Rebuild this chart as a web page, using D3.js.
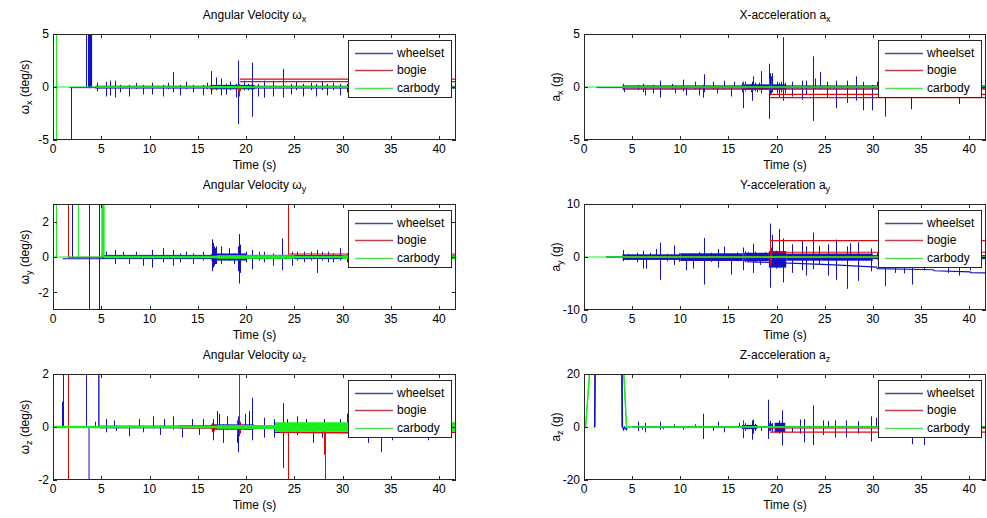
<!DOCTYPE html>
<html>
<head>
<meta charset="utf-8">
<script src="https://cdn.jsdelivr.net/npm/d3@7"></script>
<style>
  body { margin: 0; background: #fff; }
  svg { display: block; }
  text { font-family: "Liberation Sans", Arial, Helvetica, sans-serif; fill: #000; }
</style>
</head>
<body>
<svg id="fig" width="987" height="518"></svg>
<script>
// ---------------------------------------------------------------------------
// Sensor records for one run: wheelset, bogie and carbody channels.
// Each channel is described by
//   *Paths  : [series, [[t, value], ...]]   traced polylines (baselines, offsets, steps)
//   *Bands  : [series, t0, t1, low, high]   envelope of dense vibration
//   *Spikes : [series, t, low, high]        individual impact transients
// Time in seconds.
// ---------------------------------------------------------------------------
const seriesNames = ["wheelset", "bogie", "carbody"];
const timeTicks = [0, 5, 10, 15, 20, 25, 30, 35, 40];
const timeDomain = [0, 41.75];

// ---- Angular velocity about x (deg/s) ----
const wxPaths = [
  ["wheelset", [[1.7, -0.05], [4.5, -0.05]]],
  ["bogie", [[19.35, 0.75], [41.75, 0.75]]],
  ["bogie", [[19.35, 0.5], [41.75, 0.5]]],
  ["carbody", [[0, 0], [41.75, 0]]]
];
const wxBands = [
  ["wheelset", 3.62, 4.05, -0.1, 5.5],
  ["wheelset", 4.4, 41.75, -0.15, 0.12],
  ["wheelset", 16.3, 20.9, -0.22, 0.2],
  ["bogie", 4.5, 41.75, -0.07, 0.05],
  ["carbody", 4.5, 41.75, -0.07, 0.07],
  ["carbody", 16.5, 20.5, -0.12, 0.1]
];
const wxSpikes = [
  ["wheelset", 1.9, -5.5, 0], ["wheelset", 3.4, 0, 5.5], ["wheelset", 4.6, -0.4, 0.4],
  ["wheelset", 5.5, -0.9, 0.5], ["wheelset", 5.9, -0.8, 0.6], ["wheelset", 6.4, -1.0, 0.6],
  ["wheelset", 6.9, -0.5, 0.2], ["wheelset", 7.9, -0.9, 0.2], ["wheelset", 8.6, -0.2, 0.4],
  ["wheelset", 9.3, -0.7, 0.2], ["wheelset", 10.3, -0.7, 0.4], ["wheelset", 11.4, -0.9, 0.2],
  ["wheelset", 11.9, -0.2, 0.4], ["wheelset", 12.4, -0.5, 1.4], ["wheelset", 13.2, -0.8, 0.2],
  ["wheelset", 13.8, -0.2, 0.5], ["wheelset", 14.5, -0.5, 0.2], ["wheelset", 15.5, -0.8, 0.2],
  ["wheelset", 16.0, -0.2, 0.4], ["wheelset", 16.4, -0.7, 1.5], ["wheelset", 16.9, -0.3, 0.9],
  ["wheelset", 17.4, -0.8, 0.8], ["wheelset", 17.9, -0.7, 0.3], ["wheelset", 18.3, -0.3, 0.5],
  ["wheelset", 19.0, -1.0, 0.3], ["wheelset", 19.2, -3.5, 2.5], ["wheelset", 19.8, -0.3, 0.6],
  ["wheelset", 20.2, -0.3, 0.3], ["wheelset", 20.6, -2.8, 2.3], ["wheelset", 21.2, -0.9, 0.3],
  ["wheelset", 21.9, -1.0, 0.6], ["wheelset", 22.8, -0.9, 0.6], ["wheelset", 23.8, -1.0, 1.7],
  ["wheelset", 24.7, -0.7, 0.3], ["wheelset", 25.2, -0.3, 0.5], ["wheelset", 25.9, -0.9, 0.3],
  ["wheelset", 26.7, -0.3, 0.4], ["wheelset", 27.2, -0.9, 0.3], ["wheelset", 27.9, -0.3, 0.5],
  ["wheelset", 28.4, -0.8, 0.3], ["wheelset", 29.0, -0.3, 0.4], ["wheelset", 29.7, -0.8, 0.3],
  ["wheelset", 30.5, -0.5, 0.3], ["wheelset", 34.1, -0.6, 0.2], ["wheelset", 35.2, -1.0, 0.2],
  ["wheelset", 37.8, -0.4, 0.2], ["wheelset", 39.8, -0.4, 0.2],
  ["bogie", 16.5, -0.3, 0.1], ["bogie", 19.15, -0.5, 0.2], ["bogie", 19.25, -0.9, 0.3],
  ["bogie", 19.4, -0.4, 0.2],
  ["carbody", 0.35, -5.5, 5.5]
];

// ---- X acceleration (g) ----
const axPaths = [
  ["wheelset", [[1.3, -0.05], [4.0, -0.05]]],
  ["bogie", [[4.0, -0.2], [41.75, -0.2]]],
  ["bogie", [[19.3, -0.7], [41.75, -0.7]]],
  ["bogie", [[19.3, -1.0], [41.75, -1.0]]],
  ["carbody", [[0, 0], [41.75, 0]]]
];
const axBands = [
  ["wheelset", 4.0, 41.75, -0.15, 0.15],
  ["wheelset", 16.4, 21.0, -0.25, 0.25],
  ["carbody", 4.0, 41.75, -0.06, 0.06]
];
const axSpikes = [
  ["wheelset", 4.05, -0.3, 0.3], ["wheelset", 4.2, -0.5, 0.1], ["wheelset", 5.6, -0.3, 0.2],
  ["wheelset", 6.1, -0.5, 0.3], ["wheelset", 6.3, -0.8, 0.1], ["wheelset", 7.2, -0.6, 0.2],
  ["wheelset", 7.9, -1.0, 0.6], ["wheelset", 9.1, -0.2, 0.3], ["wheelset", 9.4, -0.6, 0.1],
  ["wheelset", 10.3, -0.4, 0.7], ["wheelset", 10.6, -0.8, 0.1], ["wheelset", 11.5, -0.2, 0.5],
  ["wheelset", 11.9, -0.8, 0.1], ["wheelset", 12.4, -1.0, 0.2], ["wheelset", 12.5, -0.5, 1.2],
  ["wheelset", 13.4, -0.2, 0.5], ["wheelset", 13.8, -0.6, 0.1], ["wheelset", 14.5, -0.2, 0.6],
  ["wheelset", 15.3, -0.9, 0.1], ["wheelset", 15.6, -0.1, 0.5], ["wheelset", 16.45, -0.5, 0.4],
  ["wheelset", 16.5, -2.0, 0.5], ["wheelset", 16.7, -0.4, 0.5], ["wheelset", 17.3, -0.5, 0.3],
  ["wheelset", 17.4, -1.3, 0.5], ["wheelset", 17.6, -0.3, 1.0], ["wheelset", 17.8, -0.4, 0.4],
  ["wheelset", 18.0, -0.5, 0.2], ["wheelset", 18.2, -0.3, 0.4], ["wheelset", 18.4, -0.6, 1.5],
  ["wheelset", 19.2, -3.0, 2.2], ["wheelset", 19.3, -0.8, 1.3], ["wheelset", 19.45, -0.6, 1.0],
  ["wheelset", 19.55, -0.5, 1.3], ["wheelset", 20.0, -0.6, 0.5], ["wheelset", 20.2, -0.5, 0.4],
  ["wheelset", 20.3, -1.0, 0.2], ["wheelset", 20.45, -0.5, 0.5], ["wheelset", 20.7, -1.3, 4.7],
  ["wheelset", 20.85, -0.6, 0.4], ["wheelset", 21.6, -0.9, 0.5],
  ["wheelset", 22.6, -1.2, 0.6], ["wheelset", 23.1, -0.7, 0.6], ["wheelset", 23.8, -3.2, 2.9],
  ["wheelset", 24.0, -0.2, 0.8], ["wheelset", 24.5, -0.2, 1.4], ["wheelset", 25.2, -1.0, 0.5],
  ["wheelset", 26.2, -2.0, 0.6], ["wheelset", 27.3, -1.5, 0.6], ["wheelset", 28.3, -1.3, 1.0],
  ["wheelset", 29.0, -2.2, 0.5], ["wheelset", 29.9, -2.2, 0.2], ["wheelset", 30.4, -0.2, 0.5],
  ["wheelset", 31.3, -2.8, 0.2], ["wheelset", 32.3, -1.0, 0.1], ["wheelset", 33.2, -1.0, 0.1],
  ["wheelset", 34.0, -2.1, 0.1], ["wheelset", 35.3, -0.5, 0.1], ["wheelset", 38.9, -1.6, 0.1],
  ["wheelset", 40.1, -0.8, 0.1],
  ["bogie", 16.55, -0.5, 0.5], ["bogie", 16.7, -0.4, 0.3], ["bogie", 19.25, -0.6, 0.8],
  ["bogie", 19.4, -0.4, 0.6]
];

// ---- Angular velocity about y (deg/s) ----
const wyPaths = [
  ["wheelset", [[1.0, -0.1], [5.0, -0.1]]],
  ["bogie", [[1.55, -0.02], [41.75, -0.02]]],
  ["bogie", [[24.35, 0.17], [41.75, 0.17]]],
  ["carbody", [[0, 0], [41.75, 0]]]
];
const wyBands = [
  ["wheelset", 5.0, 41.75, -0.12, 0.12],
  ["wheelset", 16.4, 20.0, -0.2, 0.2],
  ["bogie", 5.0, 41.75, -0.05, 0.05],
  ["carbody", 5.0, 5.35, 0, 3.2],
  ["carbody", 5.3, 41.75, -0.07, 0.07],
  ["carbody", 17.0, 25.0, -0.1, 0.1],
  ["carbody", 30.0, 41.75, -0.12, 0.1]
];
const wySpikes = [
  ["wheelset", 2.0, 0, 3.2], ["wheelset", 3.72, -3.2, 3.2], ["wheelset", 4.76, -3.2, 3.2],
  ["wheelset", 5.5, -0.1, 0.3], ["wheelset", 6.4, -0.4, 0.4], ["wheelset", 7.3, -0.1, 0.3],
  ["wheelset", 7.9, -0.4, 0.1], ["wheelset", 8.6, -0.1, 0.3], ["wheelset", 9.3, -0.5, 0.1],
  ["wheelset", 10.3, -0.6, 0.4], ["wheelset", 11.4, -0.3, 0.5], ["wheelset", 12.4, -0.5, 0.4],
  ["wheelset", 13.2, -0.3, 0.2], ["wheelset", 13.8, -0.1, 0.3], ["wheelset", 14.5, -0.4, 0.2],
  ["wheelset", 15.5, -0.2, 0.3], ["wheelset", 16.45, -0.8, 1.0], ["wheelset", 16.55, -0.6, 0.8],
  ["wheelset", 16.65, -0.5, 0.6], ["wheelset", 16.8, -0.4, 0.5], ["wheelset", 16.9, -0.4, 0.6],
  ["wheelset", 17.4, -0.4, 0.6], ["wheelset", 18.2, -0.2, 0.5], ["wheelset", 18.7, -0.4, 0.2],
  ["wheelset", 19.15, -0.8, 0.6], ["wheelset", 19.3, -1.5, 1.3], ["wheelset", 19.4, -0.9, 0.7],
  ["wheelset", 20.0, -0.3, 0.3], ["wheelset", 20.6, -0.7, 0.4],
  ["wheelset", 21.3, -0.2, 0.3], ["wheelset", 21.9, -0.3, 0.3], ["wheelset", 22.8, -0.5, 0.2],
  ["wheelset", 23.7, -0.75, 1.05], ["wheelset", 24.8, -0.5, 0.3], ["wheelset", 25.3, -0.2, 0.3],
  ["wheelset", 26.0, -0.3, 0.3], ["wheelset", 26.7, -0.2, 0.3], ["wheelset", 27.3, -0.9, 0.4],
  ["wheelset", 27.9, -0.2, 0.3], ["wheelset", 28.5, -0.3, 0.3], ["wheelset", 29.0, -0.3, 0.2],
  ["wheelset", 29.7, -0.2, 0.5], ["wheelset", 30.5, -0.3, 0.2], ["wheelset", 33.1, -0.4, 0.1],
  ["wheelset", 35.2, -0.3, 0.1], ["wheelset", 37.8, -0.3, 0.1],
  ["bogie", 1.55, 0, 3.2], ["bogie", 24.3, 0.15, 3.2],
  ["carbody", 0.35, 0, 3.2], ["carbody", 2.6, 0, 3.2]
];

// ---- Y acceleration (g) ----
const ayPaths = [
  ["wheelset", [[2.3, 0], [4.0, 0]]],
  ["wheelset", [[16.9, -0.9], [22.0, -1.2], [26.0, -1.5], [30.4, -1.9], [30.45, -2.2],
                [36.3, -2.4], [36.35, -2.6], [40.1, -2.8], [40.15, -2.95], [41.75, -3.0]]],
  ["bogie", [[19.3, 3.1], [41.75, 3.1]]],
  ["bogie", [[19.3, 0.9], [41.75, 0.9]]],
  ["carbody", [[0, 0], [41.75, 0]]]
];
const ayBands = [
  ["wheelset", 2.3, 4.0, -0.2, 0.15],
  ["wheelset", 4.0, 10.0, -0.55, 0.5],
  ["wheelset", 10.0, 16.5, -0.75, 0.7],
  ["wheelset", 16.5, 19.2, -0.8, 0.8],
  ["wheelset", 19.2, 21.0, -2.0, 1.1],
  ["wheelset", 21.0, 30.0, -0.7, 0.65],
  ["wheelset", 30.0, 41.75, -0.4, 0.35],
  ["bogie", 4.0, 41.75, -0.2, 0.2],
  ["carbody", 2.3, 41.75, -0.12, 0.12]
];
const aySpikes = [
  ["wheelset", 4.1, -0.8, 1.3], ["wheelset", 4.6, -0.6, 0.6], ["wheelset", 5.5, -1.0, 0.8],
  ["wheelset", 6.1, -2.2, 1.2], ["wheelset", 6.4, -2.2, 0.3], ["wheelset", 6.9, -0.5, 0.8],
  ["wheelset", 7.5, -0.5, 1.5], ["wheelset", 7.9, -4.3, 2.7], ["wheelset", 8.6, -0.8, 0.6],
  ["wheelset", 9.3, -1.5, 2.2], ["wheelset", 9.9, -0.9, 0.7], ["wheelset", 10.6, -2.5, 0.5],
  ["wheelset", 11.3, -2.2, 0.5], ["wheelset", 11.9, -0.7, 0.9], ["wheelset", 12.5, -5.2, 3.6],
  ["wheelset", 13.2, -0.9, 0.8], ["wheelset", 13.9, -2.0, 1.5], ["wheelset", 14.5, -0.5, 2.0],
  ["wheelset", 15.3, -3.3, 0.5], ["wheelset", 15.9, -0.8, 0.9], ["wheelset", 16.5, -2.5, 1.8],
  ["wheelset", 16.7, -1.0, 1.1], ["wheelset", 17.0, -0.9, 0.9], ["wheelset", 17.5, -3.0, 2.5],
  ["wheelset", 17.8, -1.0, 1.0], ["wheelset", 18.3, -1.5, 0.5], ["wheelset", 18.8, -0.8, 0.9],
  ["wheelset", 19.3, -5.8, 6.3], ["wheelset", 19.5, -1.0, 4.2], ["wheelset", 19.9, -2.2, 1.2],
  ["wheelset", 20.2, -2.0, 5.3], ["wheelset", 20.7, -4.8, 3.5], ["wheelset", 21.6, -3.0, 2.4],
  ["wheelset", 22.6, -2.5, 3.2], ["wheelset", 23.1, -3.5, 2.0], ["wheelset", 23.8, -2.3, 4.6],
  ["wheelset", 24.4, -1.5, 2.1], ["wheelset", 25.3, -3.5, 2.4], ["wheelset", 26.2, -4.3, 3.3],
  ["wheelset", 27.3, -6.0, 2.0], ["wheelset", 27.6, -0.5, 2.6], ["wheelset", 28.5, -4.5, 2.8],
  ["wheelset", 29.8, -2.7, 1.6], ["wheelset", 30.4, -0.5, 0.8], ["wheelset", 31.3, -5.5, 0.3],
  ["wheelset", 32.3, -3.0, 0.2], ["wheelset", 33.2, -3.1, 0.2], ["wheelset", 34.1, -5.2, 0.2],
  ["wheelset", 35.3, -2.5, 0.2], ["wheelset", 37.8, -3.0, 0.2], ["wheelset", 38.9, -3.5, 0.2],
  ["wheelset", 40.1, -2.5, 0.2],
  ["bogie", 16.55, -1.0, 1.0], ["bogie", 16.7, -0.7, 0.8], ["bogie", 19.3, -1.5, 3.1],
  ["bogie", 19.45, -1.2, 1.8]
];

// ---- Angular velocity about z (deg/s) ----
const wzPaths = [
  ["wheelset", [[0.9, 0], [5.0, 0]]],
  ["wheelset", [[23.0, -0.2], [31.0, -0.22]]],
  ["bogie", [[23.5, -0.2], [41.75, -0.2]]],
  ["bogie", [[24.3, 0.05], [41.75, 0.05]]],
  ["carbody", [[0, 0], [41.75, 0]]]
];
const wzBands = [
  ["wheelset", 4.8, 41.75, -0.05, 0.05],
  ["wheelset", 16.4, 20.8, -0.1, 0.1],
  ["wheelset", 4.68, 4.82, 0, 2.2],
  ["wheelset", 3.68, 3.78, -2.2, 0],
  ["bogie", 13.0, 22.0, -0.06, 0.06],
  ["carbody", 0, 41.75, -0.045, 0.045],
  ["carbody", 17.0, 23.0, -0.07, 0.07],
  ["carbody", 23.0, 41.75, -0.18, 0.18]
];
const wzSpikes = [
  ["wheelset", 0.95, 0, 0.95], ["wheelset", 1.05, 0, 2.2], ["wheelset", 3.4, 0, 2.2],
  ["wheelset", 4.3, -0.05, 0.2], ["wheelset", 5.5, -0.2, 0.3], ["wheelset", 6.3, -0.05, 0.25],
  ["wheelset", 6.5, -0.15, 0.05], ["wheelset", 7.9, -0.35, 0.05], ["wheelset", 8.9, -0.05, 0.3],
  ["wheelset", 9.3, -0.2, 0.05], ["wheelset", 10.4, -0.05, 0.4], ["wheelset", 11.1, -0.3, 0.05],
  ["wheelset", 11.5, -0.05, 0.3], ["wheelset", 12.4, -0.1, 0.4], ["wheelset", 13.4, -0.4, 0.05],
  ["wheelset", 14.4, -0.05, 0.3], ["wheelset", 15.1, -0.3, 0.05], ["wheelset", 15.5, -0.05, 0.3],
  ["wheelset", 16.6, -0.5, 0.3], ["wheelset", 17.0, -0.1, 0.6], ["wheelset", 17.2, -0.1, 0.5],
  ["wheelset", 17.6, -0.6, 0.1], ["wheelset", 18.0, -0.1, 0.4], ["wheelset", 19.1, -0.6, 0.1],
  ["wheelset", 19.2, -0.95, 0.4], ["wheelset", 19.9, -0.1, 0.5], ["wheelset", 20.3, -0.1, 0.6],
  ["wheelset", 20.6, -0.5, 1.1], ["wheelset", 21.9, -0.4, 0.35], ["wheelset", 22.9, -0.4, 0.3],
  ["wheelset", 23.8, -1.55, 0.9], ["wheelset", 24.2, -0.1, 0.3], ["wheelset", 25.3, -0.3, 0.4],
  ["wheelset", 26.2, -0.1, 0.3], ["wheelset", 26.9, -0.6, 0.1], ["wheelset", 27.9, -0.4, 0.1],
  ["wheelset", 28.1, -0.1, 0.3], ["wheelset", 29.7, -0.1, 0.3], ["wheelset", 30.5, -0.1, 0.5],
  ["wheelset", 32.6, -0.6, 0.05], ["wheelset", 34.0, -0.95, 0.05], ["wheelset", 35.1, -0.5, 0.05],
  ["wheelset", 37.3, -0.4, 0.05], ["wheelset", 38.9, -0.5, 0.05],
  ["bogie", 1.55, -2.2, 2.2], ["bogie", 16.5, -0.2, 0.15], ["bogie", 16.7, -0.15, 0.1],
  ["bogie", 19.1, -0.3, 0.25], ["bogie", 19.25, -0.35, 2.2], ["bogie", 19.4, -0.25, 0.2],
  ["bogie", 24.3, -2.2, 0], ["bogie", 28.05, -1.05, 0], ["bogie", 28.15, -2.2, 0]
];

// ---- Z acceleration (g) ----
const azPaths = [
  ["wheelset", [[1.0, 0], [1.1, 0], [1.15, 30], [3.95, 30], [4.0, 0], [4.1, -1], [4.2, 0], [4.4, -1], [4.5, 0]]],
  ["wheelset", [[1.13, 0], [1.18, 30], [3.9, 30], [3.95, 0]]],
  ["bogie", [[19.3, -1.9], [41.75, -1.9]]],
  ["bogie", [[19.3, -0.3], [41.75, -0.3]]],
  ["carbody", [[0, 0], [0.15, 0], [0.6, 22], [4.1, 22], [4.4, 0], [41.75, 0]]],
  ["carbody", [[0.18, 0], [0.63, 22], [4.13, 22], [4.43, 0]]]
];
const azBands = [
  ["wheelset", 5.0, 41.75, -0.4, 0.4],
  ["wheelset", 16.4, 18.0, -0.8, 0.8],
  ["wheelset", 19.8, 20.9, -2.0, 1.6],
  ["carbody", 4.4, 41.75, -0.3, 0.3]
];
const azSpikes = [
  ["wheelset", 5.6, -1.5, 2.0], ["wheelset", 6.0, -1.0, 0.3], ["wheelset", 6.3, -2.0, 1.5],
  ["wheelset", 7.9, -1.0, 2.0], ["wheelset", 8.2, -0.8, 0.3], ["wheelset", 9.3, -0.3, 1.0],
  ["wheelset", 10.3, -1.0, 0.3], ["wheelset", 11.5, -0.3, 1.0], ["wheelset", 12.4, -4.5, 5.0],
  ["wheelset", 13.4, -1.5, 0.3], ["wheelset", 13.9, -0.3, 2.0], ["wheelset", 14.5, -2.0, 0.3],
  ["wheelset", 16.1, -0.3, 1.5], ["wheelset", 16.5, -4.2, 2.5], ["wheelset", 16.7, -1.5, 1.5],
  ["wheelset", 17.4, -4.8, 2.5], ["wheelset", 17.6, -2.5, 2.8], ["wheelset", 17.8, -1.5, 1.2],
  ["wheelset", 18.4, -1.5, 0.3], ["wheelset", 19.1, -4.5, 10.3], ["wheelset", 19.3, -1.5, 2.3],
  ["wheelset", 19.5, -2.0, 1.5], ["wheelset", 20.2, -2.5, 2.5], ["wheelset", 20.6, -7.0, 6.3],
  ["wheelset", 21.6, -2.0, 0.3], ["wheelset", 22.4, -2.5, 2.8], ["wheelset", 22.9, -5.8, 3.0],
  ["wheelset", 23.8, -6.8, 8.2], ["wheelset", 24.8, -3.0, 2.5], ["wheelset", 25.3, -0.3, 2.3],
  ["wheelset", 26.1, -4.0, 2.5], ["wheelset", 27.2, -4.0, 2.5], ["wheelset", 28.5, -2.5, 2.2],
  ["wheelset", 29.8, -5.5, 4.0], ["wheelset", 30.3, -0.3, 3.5], ["wheelset", 31.3, -3.0, 0.3],
  ["wheelset", 34.1, -6.5, 0.3], ["wheelset", 35.3, -6.8, 0.3], ["wheelset", 36.4, -1.5, 0.3],
  ["wheelset", 38.9, -3.0, 0.3], ["wheelset", 40.0, -2.0, 0.3],
  ["bogie", 16.55, -2.0, 2.0], ["bogie", 16.7, -1.2, 1.5], ["bogie", 19.25, -1.5, 1.5],
  ["bogie", 19.4, -1.0, 1.2]
];

// ---------------------------------------------------------------------------
const colors = { wheelset: "#1212c4", bogie: "#e00a0a", carbody: "#1bef1b" };
const legendColors = { wheelset: "#4a4a9a", bogie: "#c04050", carbody: "#50e050" };

const columns = [{ x0: 53, x1: 456 }, { x0: 584, x1: 986 }];
const rows = [{ y0: 34, y1: 140 }, { y0: 204, y1: 310 }, { y0: 374, y1: 480 }];

const panels = [
  { col: 0, row: 0, title: ["Angular Velocity ω", "x"], ylab: ["ω", "x", " (deg/s)"],
    yDomain: [-5, 5], yTicks: [-5, 0, 5], paths: wxPaths, bands: wxBands, spikes: wxSpikes },
  { col: 1, row: 0, title: ["X-acceleration a", "x"], ylab: ["a", "x", " (g)"],
    yDomain: [-5, 5], yTicks: [-5, 0, 5], paths: axPaths, bands: axBands, spikes: axSpikes },
  { col: 0, row: 1, title: ["Angular Velocity ω", "y"], ylab: ["ω", "y", " (deg/s)"],
    yDomain: [-3, 3], yTicks: [-2, 0, 2], paths: wyPaths, bands: wyBands, spikes: wySpikes },
  { col: 1, row: 1, title: ["Y-acceleration a", "y"], ylab: ["a", "y", " (g)"],
    yDomain: [-10, 10], yTicks: [-10, 0, 10], paths: ayPaths, bands: ayBands, spikes: aySpikes },
  { col: 0, row: 2, title: ["Angular Velocity ω", "z"], ylab: ["ω", "z", " (deg/s)"],
    yDomain: [-2, 2], yTicks: [-2, 0, 2], paths: wzPaths, bands: wzBands, spikes: wzSpikes },
  { col: 1, row: 2, title: ["Z-acceleration a", "z"], ylab: ["a", "z", " (g)"],
    yDomain: [-20, 20], yTicks: [-20, 0, 20], paths: azPaths, bands: azBands, spikes: azSpikes }
];

const svg = d3.select("#fig");
const defs = svg.append("defs");
const axisColor = "#262626";
const tickLen = 4;

panels.forEach((p, i) => {
  const { x0, x1 } = columns[p.col];
  const { y0, y1 } = rows[p.row];
  const x = d3.scaleLinear().domain(timeDomain).range([x0, x1]);
  const y = d3.scaleLinear().domain(p.yDomain).range([y1, y0]);
  const g = svg.append("g");

  defs.append("clipPath").attr("id", "clip" + i)
    .append("rect").attr("x", x0).attr("y", y0).attr("width", x1 - x0).attr("height", y1 - y0);

  g.append("rect").attr("x", x0).attr("y", y0).attr("width", x1 - x0).attr("height", y1 - y0)
    .attr("fill", "#fff");

  const plot = g.append("g").attr("clip-path", `url(#clip${i})`);
  const line = d3.line().x(d => x(d[0])).y(d => y(d[1]));

  seriesNames.forEach(s => {
    const c = colors[s];
    plot.selectAll(null).data(p.bands.filter(b => b[0] === s)).join("rect")
      .attr("x", b => x(b[1]))
      .attr("width", b => Math.max(1, x(b[2]) - x(b[1])))
      .attr("y", b => y(b[4]))
      .attr("height", b => Math.max(1.2, y(b[3]) - y(b[4])))
      .attr("fill", c);
    plot.selectAll(null).data(p.paths.filter(d => d[0] === s)).join("path")
      .attr("d", d => line(d[1]))
      .attr("fill", "none").attr("stroke", c).attr("stroke-width", 1.2);
    plot.selectAll(null).data(p.spikes.filter(d => d[0] === s)).join("line")
      .attr("x1", d => Math.round(x(d[1])) + 0.5).attr("x2", d => Math.round(x(d[1])) + 0.5)
      .attr("y1", d => y(d[3])).attr("y2", d => y(d[2]))
      .attr("stroke", c).attr("stroke-width", 1);
  });

  // Box and inward ticks
  g.append("rect").attr("x", x0 + 0.5).attr("y", y0 + 0.5)
    .attr("width", x1 - x0 - 1).attr("height", y1 - y0 - 1)
    .attr("fill", "none").attr("stroke", axisColor).attr("stroke-width", 1);

  timeTicks.forEach(t => {
    const tx = Math.round(x(t)) + 0.5;
    g.append("line").attr("x1", tx).attr("x2", tx).attr("y1", y1).attr("y2", y1 - tickLen).attr("stroke", axisColor);
    g.append("line").attr("x1", tx).attr("x2", tx).attr("y1", y0).attr("y2", y0 + tickLen).attr("stroke", axisColor);
    g.append("text").attr("x", x(t)).attr("y", y1 + 12.5).attr("text-anchor", "middle")
      .attr("font-size", 12).text(t);
  });
  p.yTicks.forEach(v => {
    const ty = Math.round(y(v)) + 0.5;
    g.append("line").attr("x1", x0).attr("x2", x0 + tickLen).attr("y1", ty).attr("y2", ty).attr("stroke", axisColor);
    g.append("line").attr("x1", x1).attr("x2", x1 - tickLen).attr("y1", ty).attr("y2", ty).attr("stroke", axisColor);
    g.append("text").attr("x", x0 - 4).attr("y", y(v)).attr("dy", "0.36em").attr("text-anchor", "end")
      .attr("font-size", 12).text(v);
  });

  // Title with subscript
  const title = g.append("text").attr("x", (x0 + x1) / 2).attr("y", y0 - 15)
    .attr("text-anchor", "middle").attr("font-size", 12);
  title.append("tspan").text(p.title[0]);
  title.append("tspan").attr("font-size", 9).attr("dy", 3).text(p.title[1]);

  // Axis labels
  g.append("text").attr("x", (x0 + x1) / 2).attr("y", y1 + 29)
    .attr("text-anchor", "middle").attr("font-size", 12).text("Time (s)");
  const yl = g.append("text")
    .attr("transform", `translate(${x0 - 24},${(y0 + y1) / 2}) rotate(-90)`)
    .attr("text-anchor", "middle").attr("font-size", 12);
  yl.append("tspan").text(p.ylab[0]);
  yl.append("tspan").attr("font-size", 9).attr("dy", 3).text(p.ylab[1]);
  yl.append("tspan").attr("dy", -3).text(p.ylab[2]);

  // Legend
  const lx = x1 - 108, ly = y0 + 6, lw = 103, lh = 57;
  const lg = g.append("g");
  lg.append("rect").attr("x", lx + 0.5).attr("y", ly + 0.5).attr("width", lw).attr("height", lh)
    .attr("fill", "#fff").attr("stroke", axisColor).attr("stroke-width", 1);
  seriesNames.forEach((s, k) => {
    const ry = ly + 12.5 + k * 17.5;
    lg.append("line").attr("x1", lx + 7).attr("x2", lx + 45).attr("y1", Math.round(ry) + 0.5).attr("y2", Math.round(ry) + 0.5)
      .attr("stroke", legendColors[s]).attr("stroke-width", 1.3);
    lg.append("text").attr("x", lx + 49).attr("y", ry).attr("dy", "0.36em")
      .attr("font-size", 12).text(s);
  });
});
</script>
</body>
</html>
